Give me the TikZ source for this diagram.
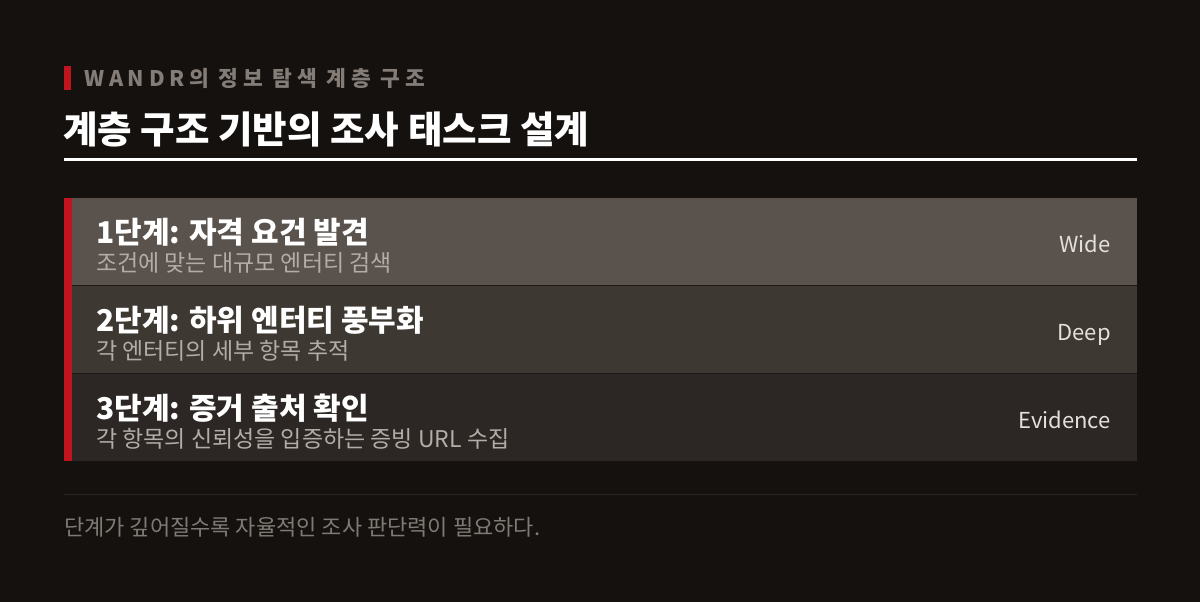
\documentclass[tikz,border=0pt]{standalone}
\usepackage{fontspec}
\setmainfont{Noto Sans CJK KR}
\newfontfamily\kr{Noto Sans CJK KR}
\newfontfamily\krspaced[LetterSpace=22]{Noto Sans CJK KR}
\definecolor{bg}{RGB}{20,17,15}
\definecolor{accent}{RGB}{192,20,30}
\definecolor{rowa}{RGB}{90,82,76}
\definecolor{rowb}{RGB}{62,56,51}
\definecolor{rowc}{RGB}{44,39,36}
\definecolor{sep}{RGB}{28,24,22}
\definecolor{kicker}{RGB}{132,125,119}
\definecolor{subtxt}{RGB}{180,173,167}
\definecolor{tagtxt}{RGB}{228,224,220}
\definecolor{foot}{RGB}{128,122,117}
\definecolor{rule}{RGB}{42,38,36}
\begin{document}
\begin{tikzpicture}[x=1pt,y=-1pt,
  rowtitle/.style={anchor=base west,inner sep=0pt,text=white,font=\kr\bfseries\fontsize{30}{34}\selectfont},
  rowsub/.style={anchor=base west,inner sep=0pt,text=subtxt,font=\kr\fontsize{23}{27}\selectfont},
  rowtag/.style={anchor=base east,inner sep=0pt,text=tagtxt,font=\kr\fontsize{22}{26}\selectfont}]
\useasboundingbox (0,0) rectangle (1200,602);
\fill[bg] (0,0) rectangle (1200,602);
% kicker
\fill[accent] (64,66) rectangle (71,90);
\node[anchor=base west,inner sep=0pt,text=kicker,font=\krspaced\bfseries\fontsize{21.5}{25}\selectfont] (kick) at (84,87) {WANDR의 정보 탐색 계층 구조};
% title
\node[anchor=base west,inner sep=0pt,text=white,font=\kr\bfseries\fontsize{37.5}{42}\selectfont] (title) at (63,143) {계층 구조 기반의 조사 태스크 설계};
\fill[white] (64,157.5) rectangle (1137,161);
% rows
\fill[rowa] (64,198) rectangle (1137,285);
\fill[rowb] (64,286) rectangle (1137,373);
\fill[rowc] (64,374) rectangle (1137,461);
\fill[sep] (64,285) rectangle (1137,286);
\fill[sep] (64,373) rectangle (1137,374);
\fill[accent] (64,198) rectangle (72,461);
\node[rowtitle] (t1) at (96,243) {1단계: 자격 요건 발견};
\node[rowsub] (s1) at (96,271) {조건에 맞는 대규모 엔터티 검색};
\node[rowtag] (g1) at (1111,252) {Wide};
\node[rowtitle] (t2) at (96,331) {2단계: 하위 엔터티 풍부화};
\node[rowsub] (s2) at (96,359) {각 엔터티의 세부 항목 추적};
\node[rowtag] (g2) at (1111,340) {Deep};
\node[rowtitle] (t3) at (96,419) {3단계: 증거 출처 확인};
\node[rowsub] (s3) at (96,447) {각 항목의 신뢰성을 입증하는 증빙 URL 수집};
\node[rowtag] (g3) at (1111,428) {Evidence};
% footer
\fill[rule] (64,494) rectangle (1137,495);
\node[anchor=base west,inner sep=0pt,text=foot,font=\kr\fontsize{22}{26}\selectfont] (foot) at (64,535) {단계가 깊어질수록 자율적인 조사 판단력이 필요하다.};
\end{tikzpicture}
\end{document}
